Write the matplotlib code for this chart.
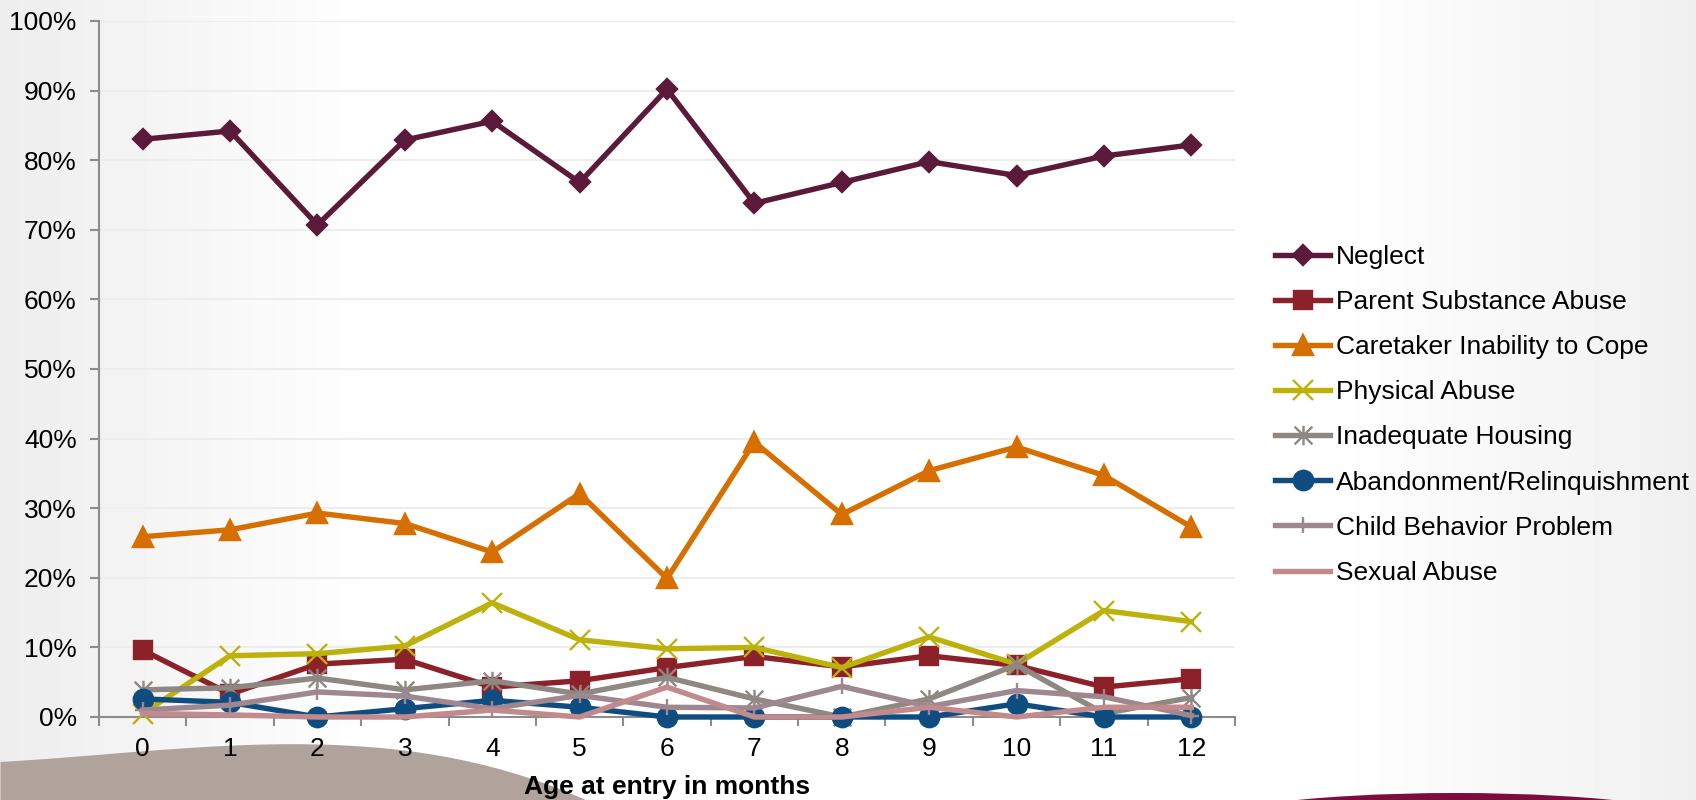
import numpy as np
import matplotlib
matplotlib.use('Agg')
import matplotlib.pyplot as plt
from matplotlib.patches import Ellipse
from matplotlib.path import Path

plt.rcParams['font.family'] = ['Liberation Sans', 'DejaVu Sans']

months = list(range(13))
neglect = [83.0, 84.2, 70.7, 82.9, 85.6, 76.8, 90.2, 73.8, 76.8, 79.8, 77.8, 80.6, 82.2]
parent_substance = [9.6, 3.3, 7.6, 8.3, 4.3, 5.2, 7.1, 8.7, 7.2, 8.8, 7.4, 4.3, 5.5]
caretaker = [25.9, 26.9, 29.3, 27.8, 23.7, 32.1, 19.9, 39.5, 29.1, 35.4, 38.8, 34.7, 27.3]
physical = [0.5, 8.8, 9.1, 10.2, 16.4, 11.1, 9.8, 10.0, 7.1, 11.5, 7.6, 15.3, 13.7]
housing = [3.9, 4.2, 5.6, 3.9, 5.2, 3.3, 5.7, 2.6, 0.0, 2.6, 7.5, 0.5, 2.8]
abandonment = [2.6, 2.1, 0.0, 1.2, 2.4, 1.4, 0.0, 0.0, 0.0, 0.0, 1.9, 0.0, 0.0]
child_behavior = [1.0, 1.7, 3.6, 3.0, 1.2, 3.1, 1.4, 1.3, 4.4, 1.5, 3.8, 2.9, 0.2]
sexual = [0.5, 0.3, 0.0, 0.0, 1.0, 0.0, 4.3, 0.0, 0.0, 1.4, 0.0, 1.4, 1.4]

y_ticks = list(range(0, 101, 10))
y_labels = [f'{v}%' for v in y_ticks]

# asterisk marker: an x with a vertical bar through it
star = Path([(-0.5, -0.5), (0.5, 0.5), (-0.5, 0.5), (0.5, -0.5), (0, -0.55), (0, 0.55)],
            [Path.MOVETO, Path.LINETO, Path.MOVETO, Path.LINETO, Path.MOVETO, Path.LINETO])

series = [
    ('Neglect', neglect, '#5C1A3B', 'D', 10.5),
    ('Parent Substance Abuse', parent_substance, '#8C2129', 's', 13.5),
    ('Caretaker Inability to Cope', caretaker, '#D66F00', '^', 14.5),
    ('Physical Abuse', physical, '#BDB20B', 'x', 14),
    ('Inadequate Housing', housing, '#8E8782', star, 14),
    ('Abandonment/Relinquishment', abandonment, '#0F4D80', 'o', 14),
    ('Child Behavior Problem', child_behavior, '#9F878F', '+', 12),
    ('Sexual Abuse', sexual, '#C18A8D', None, 0),
]

fig = plt.figure(figsize=(16.96, 8), dpi=100)

# backdrop: soft grey edges and the two rounded shapes at the bottom
bg = fig.add_axes([0, 0, 1, 1], zorder=-10)
bg.set_xlim(0, 1696)
bg.set_ylim(800, 0)
bg.axis('off')
xs = np.arange(1696)
shade = 1 - 0.07 * np.clip(1 - xs / 380, 0, 1) - 0.06 * np.clip((xs - 1330) / 366, 0, 1)
grad = np.tile(shade, (800, 1))
bg.imshow(grad, cmap='gray', vmin=0, vmax=1, extent=[0, 1696, 800, 0], aspect='auto')

# grey swoop bottom left, traced along its upper edge
edge_x = [0, 153, 318, 459, 530, 585]
edge_y = [762, 748, 747, 758, 776, 801]
coef = np.polyfit(edge_x, edge_y, 3)
sx = np.linspace(0, 640, 200)
sy = np.minimum(np.polyval(coef, sx), 801)
bg.fill_between(sx, sy, 801, color='#AFA39C', lw=0)
bg.add_patch(Ellipse((1455, 830), 540, 74, color='#7D0D3B', lw=0))

ax = fig.add_axes([99 / 1696, 1 - 717 / 800, (1235 - 99) / 1696, (717 - 21) / 800])
ax.set_facecolor('none')

for name, vals, color, marker, ms in series:
    ax.plot(months, vals, color=color, lw=3.9, marker=marker, markersize=ms,
            markerfacecolor=color, markeredgecolor=color, markeredgewidth=1.7,
            label=name, clip_on=False, solid_joinstyle='miter')

ax.set_xlim(-0.5, 12.5)
ax.set_ylim(0, 100)
ax.set_yticks(y_ticks)
ax.set_yticklabels(y_labels)
ax.set_xticks(months)
ax.set_xticks(np.arange(-0.5, 13, 1), minor=True)
ax.tick_params(axis='x', which='major', length=0, pad=14.5, labelsize=19)
ax.tick_params(axis='x', which='minor', length=6.5, width=1.5, color='#8C8C8C', direction='out')
ax.tick_params(axis='y', length=6.5, width=1.5, color='#8C8C8C', pad=9.5, labelsize=19)

ax.grid(axis='y', color='#EDEDED', lw=1.5)
ax.set_axisbelow(True)
for side in ('top', 'right'):
    ax.spines[side].set_visible(False)
for side in ('left', 'bottom'):
    ax.spines[side].set_color('#8C8C8C')
    ax.spines[side].set_linewidth(1.5)
    ax.spines[side].set_zorder(1)

ax.set_xlabel('Age at entry in months', fontsize=19, fontweight='bold')
ax.xaxis.set_label_coords(0.5, -0.1)
ax.xaxis.label.set_va('center')

ax.legend(loc='upper left', bbox_to_anchor=(1275 / 1696, 1 - 245 / 800),
          bbox_transform=fig.transFigure, frameon=False, fontsize=19,
          handlelength=2.1, handletextpad=0.2, labelspacing=0.8,
          borderpad=0, borderaxespad=0)

fig.savefig('out.png', dpi=100)
